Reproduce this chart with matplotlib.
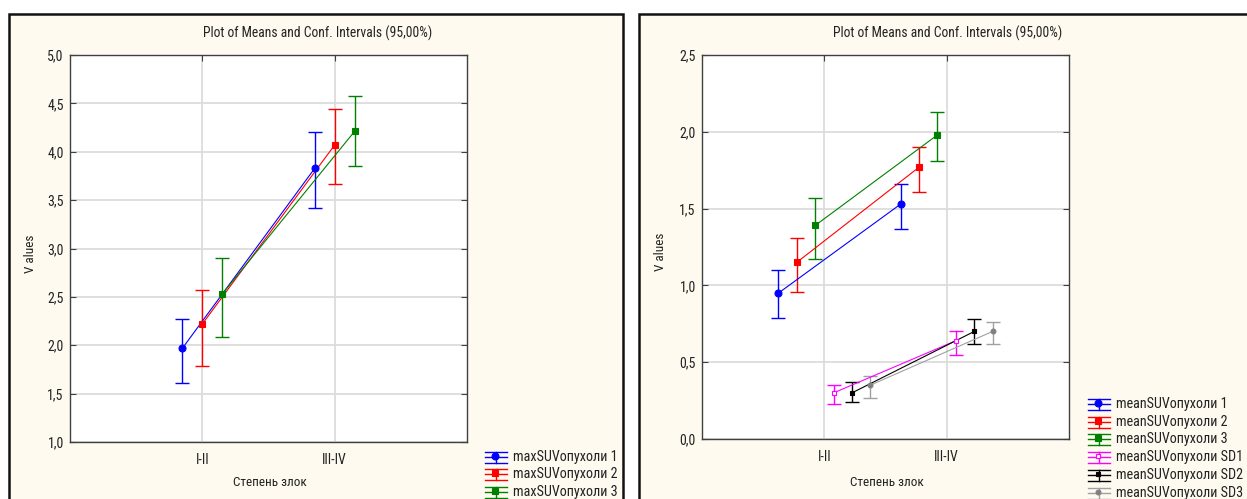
import matplotlib
matplotlib.use("Agg")
import matplotlib.pyplot as plt
from matplotlib import font_manager
from matplotlib.lines import Line2D
from matplotlib.patches import Rectangle
from matplotlib.ticker import FuncFormatter

# categories and group means with 95% confidence limits
groups = ["I-II", "III-IV"]

max_names = ["maxSUVопухоли 1", "maxSUVопухоли 2", "maxSUVопухоли 3"]
max_mean = [[1.97, 3.83], [2.22, 4.07], [2.53, 4.21]]
max_lo = [[1.61, 3.42], [1.79, 3.67], [2.09, 3.85]]
max_hi = [[2.27, 4.20], [2.57, 4.44], [2.90, 4.58]]

mean_names = ["meanSUVопухоли 1", "meanSUVопухоли 2", "meanSUVопухоли 3",
              "meanSUVопухоли SD1", "meanSUVопухоли SD2", "meanSUVопухоли SD3"]
mean_mean = [[0.95, 1.53], [1.15, 1.77], [1.39, 1.98],
             [0.30, 0.64], [0.30, 0.70], [0.35, 0.70]]
mean_lo = [[0.79, 1.37], [0.96, 1.61], [1.17, 1.81],
           [0.23, 0.55], [0.24, 0.62], [0.27, 0.62]]
mean_hi = [[1.10, 1.66], [1.31, 1.90], [1.57, 2.13],
           [0.35, 0.70], [0.37, 0.78], [0.41, 0.76]]

colors = ["#0000ff", "#ff0000", "#008000", "#ff00ff", "#000000", "#a0a0a0"]
mcolors = ["#0000ff", "#ff0000", "#008000", "#ff00ff", "#000000", "#808080"]
markers = ["o", "s", "s", "s", "s", "o"]
msizes = [5.0, 4.5, 4.5, 3.0, 3.0, 3.5]
mfaces = ["#0000ff", "#ff0000", "#008000", "white", "#000000", "#808080"]

# condensed sans for the labels, plain Liberation Sans if none is there
installed = {f.name for f in font_manager.fontManager.ttflist}
FONT = "Liberation Sans"
for cand in ["Liberation Sans Narrow", "Arial Narrow", "Roboto Condensed"]:
    if cand in installed:
        FONT = cand
        break
NARROW = FONT != "Liberation Sans"
plt.rcParams["font.family"] = [FONT, "DejaVu Sans"]

fs_title = 9.8 if NARROW else 8.6
fs_tick = 10.0 if NARROW else 8.7
fs_label = 9.5 if NARROW else 8.4
fs_leg = 10.2 if NARROW else 9.0

W, H = 1247, 499
BG = "#fefaef"
TXT = "#222222"


def fx(px):
    return px / W


def fy(py):
    return 1 - py / H


def comma(v, pos):
    return ("%.1f" % v).replace(".", ",")


def panel(fig, box, ylim, yticks, means, los, his, names, offsets, title_x,
          ylabel_x, leg_x, leg_y0, leg_dy):
    x0, y0, x1, y1 = box
    ax = fig.add_axes([fx(x0), fy(y1), fx(x1 - x0), (y1 - y0) / H])
    ax.set_facecolor("white")
    ax.set_xlim(-1, 2)
    ax.set_ylim(*ylim)
    ax.set_yticks(yticks)
    ax.yaxis.set_major_formatter(FuncFormatter(comma))
    ax.set_xticks(range(len(groups)))
    ax.set_xticklabels(groups)
    ax.grid(True, color="#dcdcdc", lw=1.3)
    ax.set_axisbelow(True)
    for s in ax.spines.values():
        s.set_color("#404040")
        s.set_linewidth(1.0)
    ax.tick_params(axis="y", which="both", left=True, right=True, direction="in",
                   length=4, color="#404040", labelsize=fs_tick, labelcolor=TXT, pad=4.5)
    ax.tick_params(axis="x", which="both", top=True, bottom=False, direction="in",
                   length=4, color="#404040", labelsize=fs_tick, labelcolor=TXT, pad=8)

    for i in range(len(names)):
        xs = [g + offsets[i] for g in range(len(groups))]
        m = means[i]
        err = [[m[k] - los[i][k] for k in range(len(m))],
               [his[i][k] - m[k] for k in range(len(m))]]
        ax.errorbar(xs, m, yerr=err, fmt="none", ecolor=colors[i],
                    elinewidth=1.0, capsize=4.8, capthick=1.0, zorder=3)
        ax.plot(xs, m, color=colors[i], lw=0.8, zorder=4)
        ax.plot(xs, m, ls="none", marker=markers[i], ms=msizes[i],
                mfc=mfaces[i], mec=mcolors[i], mew=0.8, zorder=5)

    fig.text(fx(title_x), fy(33), "Plot of Means and Conf. Intervals (95,00%)",
             ha="center", va="center", fontsize=fs_title, color=TXT)
    fig.text(fx(ylabel_x), fy((y0 + y1) / 2 + 5), "V alues", rotation=90,
             ha="center", va="center", fontsize=fs_label, color=TXT)
    fig.text(fx((x0 + x1) / 2 + 1), fy(483), "Степень злок",
             ha="center", va="center", fontsize=fs_label, color=TXT)

    # legend: small error-bar glyph and name for every series
    for i, nm in enumerate(names):
        yy = leg_y0 + i * leg_dy
        hx0, hx1 = leg_x, leg_x + 22
        hc = (hx0 + hx1) / 2
        for dy in (-5, 0, 6):
            fig.add_artist(Line2D([fx(hx0), fx(hx1)], [fy(yy + dy), fy(yy + dy)],
                                  color=colors[i], lw=1.0))
        fig.add_artist(Line2D([fx(hc), fx(hc)], [fy(yy - 5), fy(yy + 6)],
                              color=colors[i], lw=1.0))
        fig.add_artist(Line2D([fx(hc - 1)], [fy(yy - 1)], ls="none",
                              marker=markers[i], ms=msizes[i], mfc=mfaces[i],
                              mec=mcolors[i], mew=0.8))
        fig.text(fx(hx1 + 6), fy(yy), nm, ha="left", va="center",
                 fontsize=fs_leg, color=TXT)
    return ax


fig = plt.figure(figsize=(W / 100, H / 100), dpi=100, facecolor="white")

# panel frames
fig.add_artist(Rectangle((fx(8.5), fy(520)), fx(623 - 8.5), (520 - 14) / H,
                         facecolor=BG, edgecolor="#111111", lw=1.8, zorder=0))
fig.add_artist(Rectangle((fx(638.5), fy(520)), fx(1300 - 638.5), (520 - 14) / H,
                         facecolor=BG, edgecolor="#111111", lw=1.8, zorder=0))

panel(fig, (70, 55, 467, 442), (1.0, 5.0), [1.0, 1.5, 2.0, 2.5, 3.0, 3.5, 4.0, 4.5, 5.0],
      max_mean, max_lo, max_hi, max_names, [-0.15, 0.0, 0.15],
      318, 30, 485, 457, 17.3)

panel(fig, (702, 55, 1069, 439), (0.0, 2.5), [0.0, 0.5, 1.0, 1.5, 2.0, 2.5],
      mean_mean, mean_lo, mean_hi, mean_names,
      [-0.375, -0.225, -0.075, 0.075, 0.225, 0.375],
      948, 660, 1088, 404, 17.7)

fig.savefig("out.png", dpi=100, facecolor="white")
